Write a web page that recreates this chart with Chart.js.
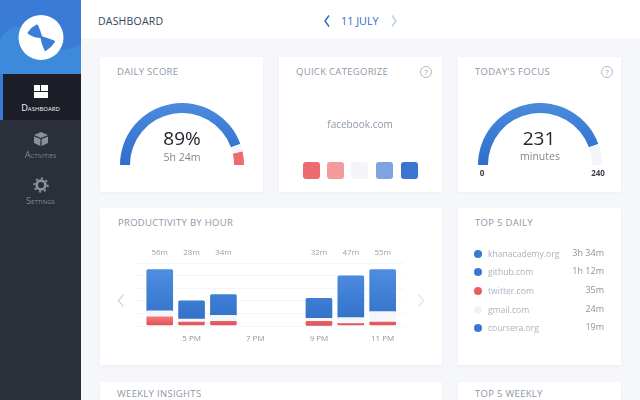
<!DOCTYPE html>
<html>
<head>
<meta charset="utf-8">
<script src="https://cdn.jsdelivr.net/npm/chart.js@4"></script>
<style>
  html, body { margin: 0; padding: 0; }
  body { width: 640px; height: 400px; overflow: hidden; position: relative; background: #f6f7fb; font-family: "Open Sans", sans-serif; }
  .abs { position: absolute; }
  .card { position: absolute; background: #fff; box-shadow: 0 1px 3px rgba(60,80,120,0.05); }
  .title { position: absolute; font-size: 9.5px; line-height: 14px; color: #8e98a8; letter-spacing: 0.3px; white-space: nowrap; }
  .title.low { line-height: 8px; }
  .txt { position: absolute; white-space: nowrap; line-height: 1; transform: translate(-50%, -50%); }
  .help { position: absolute; width: 10px; height: 10px; border: 1px solid #b4bac4; border-radius: 50%; font-size: 8px; line-height: 10px; text-align: center; color: #98a0ad; }
  #topbar { position: absolute; left: 81px; top: 0; width: 559px; height: 38px; background: #fff; }
  #side { position: absolute; left: 0; top: 0; width: 81px; height: 400px; background: #2a2f3a; }
  #active { position: absolute; left: 3px; top: 74px; width: 78px; height: 46px; background: #1c1f28; }
  #strip { position: absolute; left: 0; top: 74px; width: 3px; height: 46px; background: #3a7bd5; }
  .nav { position: absolute; left: 0; width: 81px; text-align: center; font-size: 9.2px; line-height: 11px; font-variant: small-caps; white-space: nowrap; }
  .sq { position: absolute; top: 162px; width: 17px; height: 17px; border-radius: 3px; }
  .dot { position: absolute; left: 474px; width: 8px; height: 8px; border-radius: 50%; }
  .site { position: absolute; left: 488px; font-size: 8.6px; line-height: 12px; color: #aab2bf; white-space: nowrap; }
  .dur { position: absolute; right: 36px; font-size: 9px; line-height: 12px; color: #8b93a0; white-space: nowrap; }
  canvas { position: absolute; }
</style>
</head>
<body>
<div id="topbar"></div>
<div id="side"></div>
<svg class="abs" style="left:0;top:0" width="81" height="74">
  <rect width="81" height="74" fill="#3a7bd7"/>
  <path d="M0 40 C10 22 26 24 36 36 C46 50 64 54 81 44 L81 74 L0 74 Z" fill="#3f8fdc" opacity="0.75"/>
  <circle cx="41" cy="37.5" r="22.5" fill="#fff"/>
  <path d="M28.5 33 Q32 28 37 25.5 Q39.5 31 41 36 Q42.5 44 45.5 50 Q51 46.5 54 41.5 Q47 39 41 37 Q34 37 28.5 33 Z" fill="#3a7fd6" stroke="#3a7fd6" stroke-width="2" stroke-linejoin="round"/>
</svg>
<div id="active"></div>
<div id="strip"></div>
<svg class="abs" style="left:33px;top:84px" width="16" height="15" viewBox="0 0 16 15" fill="#fff">
  <rect x="1" y="1" width="6" height="6"/><rect x="8" y="1" width="7" height="6"/><rect x="1" y="8" width="14" height="6"/>
</svg>
<div class="nav" style="top:102px;color:#f2f4f7">Dashboard</div>
<svg class="abs" style="left:33px;top:131px" width="16" height="16" viewBox="0 0 16 16" fill="#8b909a">
  <path d="M1 4 L8 1 L15 4 L8 7 Z"/><path d="M1 5.5 L7.4 8 V15 L1 12 Z"/><path d="M15 5.5 L8.6 8 V15 L15 12 Z"/>
</svg>
<div class="nav" style="top:149px;color:#858a94">Activities</div>
<svg class="abs" style="left:33px;top:177px" width="16" height="16" viewBox="0 0 16 16">
  <circle cx="8" cy="8" r="4.4" fill="none" stroke="#8b909a" stroke-width="2.6"/>
  <circle cx="8" cy="8" r="6.7" fill="none" stroke="#8b909a" stroke-width="2" stroke-dasharray="2.2 3"/>
</svg>
<div class="nav" style="top:195px;color:#858a94">Settings</div>

<div class="abs" style="left:98px;top:13px;font-size:10.5px;line-height:16px;color:#33445c;letter-spacing:.2px">DASHBOARD</div>
<svg class="abs" style="left:323px;top:14px" width="8" height="14" fill="none"><path d="M6 1.5 L2 7 L6 12.5" stroke="#2f6fc5" stroke-width="1.5"/></svg>
<div class="abs" style="left:341px;top:13px;font-size:10.8px;line-height:16px;color:#2f6fc5">11 JULY</div>
<svg class="abs" style="left:390px;top:14px" width="8" height="14" fill="none"><path d="M2 1.5 L6 7 L2 12.5" stroke="#bcd0ec" stroke-width="1.5"/></svg>

<div class="card" style="left:100px;top:57px;width:163px;height:135px"></div>
<div class="card" style="left:279px;top:57px;width:163px;height:135px"></div>
<div class="card" style="left:458px;top:57px;width:163px;height:135px"></div>
<div class="card" style="left:100px;top:208px;width:342px;height:157px"></div>
<div class="card" style="left:458px;top:208px;width:163px;height:157px"></div>
<div class="card" style="left:100px;top:382px;width:342px;height:30px"></div>
<div class="card" style="left:458px;top:382px;width:163px;height:30px"></div>

<div class="title" style="left:117px;top:65px">DAILY SCORE</div>
<div class="title" style="left:296px;top:65px">QUICK CATEGORIZE</div>
<div class="title" style="left:475px;top:65px">TODAY'S FOCUS</div>
<div class="help" style="left:420px;top:66px">?</div>
<div class="help" style="left:601px;top:66px">?</div>
<div class="title" style="left:118px;top:216px">PRODUCTIVITY BY HOUR</div>
<div class="title" style="left:475px;top:216px">TOP 5 DAILY</div>
<div class="title low" style="left:117px;top:390px">WEEKLY INSIGHTS</div>
<div class="title low" style="left:475px;top:390px">TOP 5 WEEKLY</div>

<canvas id="gauge-score" style="left:120px;top:103px"></canvas>
<div class="txt" style="left:182px;top:138px;font-size:19px;color:#23262c">89%</div>
<div class="txt" style="left:182px;top:156.5px;font-size:10.5px;color:#80868f">5h 24m</div>

<div class="txt" style="left:360px;top:124px;font-size:10px;color:#8e98a8">facebook.com</div>
<div id="squares"></div>

<canvas id="gauge-focus" style="left:478px;top:103px"></canvas>
<div class="txt" style="left:539px;top:137.5px;font-size:19px;color:#23262c">231</div>
<div class="txt" style="left:540px;top:155.5px;font-size:10.5px;color:#80868f">minutes</div>
<div class="txt" style="left:482px;top:173px;font-size:8px;font-weight:700;color:#3a3f47">0</div>
<div class="txt" style="left:598px;top:173px;font-size:8px;font-weight:700;color:#3a3f47">240</div>

<svg class="abs" style="left:116px;top:293px" width="10" height="15" fill="none"><path d="M7.5 1.5 L2.5 7.5 L7.5 13.5" stroke="#d5d9e0" stroke-width="1.4"/></svg>
<svg class="abs" style="left:416px;top:293px" width="10" height="15" fill="none"><path d="M2.5 1.5 L7.5 7.5 L2.5 13.5" stroke="#e2e5ea" stroke-width="1.4"/></svg>
<canvas id="chart-hours" style="left:130px;top:245px"></canvas>

<div id="toplist"></div>

<script>
// values
const HOURS = [16, 17, 18, 19, 20, 21, 22, 23];
const HOUR_TICKS = [17, 19, 21, 23];
const HOUR_TICK_LABELS = ['5 PM', '7 PM', '9 PM', '11 PM'];
const TOTAL_LABELS = ['56m', '28m', '34m', '', '', '32m', '47m', '55m'];
const BLUE_LOW = [14.4, 6.7, 10.2, null, null, 7.3, 8, 13.7];
const BLUE_HIGH = [54, 24, 30, null, null, 26.5, 48, 54];
const NEUTRAL_LOW = [9.3, 4.5, 5, null, null, 5, 3, 4.5];
const RED_LOW = [1, 1, 1, null, null, 0.5, 1, 1];
const RED_HIGH = [9.3, 4.5, 5, null, null, 5, 3, 4.5];

const SCORE_ARCS = [89, 4, 7];
const FOCUS_ARCS = [89, 11];

const SQUARE_COLORS = ['#ee6a6e', '#f49a9c', '#f3f5fa', '#7ea3e0', '#3a75d0'];
const SQUARE_LEFTS = [303, 327, 351, 376, 401];
const SITES = ['khanacademy.org', 'github.com', 'twitter.com', 'gmail.com', 'coursera.org'];
const SITE_TIMES = ['3h 34m', '1h 12m', '35m', '24m', '19m'];
const SITE_COLORS = ['#3a78d2', '#3a78d2', '#ea5d62', '#f1f3f7', '#3a78d2'];
const SITE_TOPS = [254, 272, 291, 310, 328];

SQUARE_COLORS.forEach((c, i) => {
  const d = document.createElement('div');
  d.className = 'sq';
  d.style.left = SQUARE_LEFTS[i] + 'px';
  d.style.background = c;
  document.getElementById('squares').appendChild(d);
});
SITES.forEach((s, i) => {
  const y = SITE_TOPS[i];
  document.getElementById('toplist').insertAdjacentHTML('beforeend',
    `<div class="dot" style="top:${y - 4}px;background:${SITE_COLORS[i]}"></div>` +
    `<div class="site" style="top:${y - 6}px">${s}</div>` +
    `<div class="dur" style="top:${y - 7}px">${SITE_TIMES[i]}</div>`);
});

function vGrad(c, top, bottom) {
  const a = c.chart.chartArea;
  if (!a) return bottom;
  const g = c.chart.ctx.createLinearGradient(0, a.top, 0, a.bottom);
  g.addColorStop(0, top);
  g.addColorStop(1, bottom);
  return g;
}

// red bars are short, so their gradient only runs over the low part of the axis
function redGrad(c) {
  const y = c.chart.scales.y;
  if (!y || !c.chart.chartArea) return '#e5585c';
  const g = c.chart.ctx.createLinearGradient(0, y.getPixelForValue(9), 0, y.getPixelForValue(0));
  g.addColorStop(0, '#f27c7f');
  g.addColorStop(1, '#dd4c51');
  return g;
}

function gauge(id, arcs, colors) {
  const el = document.getElementById(id);
  el.width = 124; el.height = 62;
  return new Chart(el, {
    type: 'doughnut',
    data: {
      datasets: [{
        data: arcs,
        // first arc is the blue one, the rest are flat colours
        backgroundColor: c => (c.dataIndex === 0 ? vGrad(c, '#4a8ade', '#2f6ecb') : colors[c.dataIndex]),
        borderWidth: 0,
      }],
    },
    options: {
      responsive: false,
      animation: false,
      rotation: -90,
      circumference: 180,
      cutout: '84%',
      plugins: { legend: { display: false }, tooltip: { enabled: false } },
    },
  });
}
gauge('gauge-score', SCORE_ARCS, [null, '#f3f5fa', '#ee6a6e']);
gauge('gauge-focus', FOCUS_ARCS, [null, '#f3f5fa']);

// labels above the bars, one per hour
const totalsPlugin = {
  id: 'totals',
  afterDraw(chart) {
    const { ctx, scales: { x } } = chart;
    ctx.save();
    ctx.font = '8px "Open Sans"';
    ctx.fillStyle = '#9aa1ad';
    ctx.textAlign = 'center';
    ctx.textBaseline = 'middle';
    HOURS.forEach((h, i) => ctx.fillText(TOTAL_LABELS[i], x.getPixelForValue(h), 8));
    ctx.restore();
  },
};

function floatBars(low, high, color) {
  return {
    data: HOURS.map((h, i) => ({ x: h, y: low[i] == null ? null : [low[i], high[i]] })),
    backgroundColor: color,
    barThickness: 26,
    grouped: false,
    borderRadius: 1.5,
    borderSkipped: false,
  };
}

const barEl = document.getElementById('chart-hours');
barEl.width = 280; barEl.height = 105;
new Chart(barEl, {
  type: 'bar',
  data: {
    datasets: [
      floatBars(NEUTRAL_LOW, BLUE_LOW, '#f5f6fb'),
      floatBars(BLUE_LOW, BLUE_HIGH, c => vGrad(c, '#5291e6', '#2e6ec4')),
      floatBars(RED_LOW, RED_HIGH, redGrad),
    ],
  },
  options: {
    responsive: false,
    animation: false,
    layout: { padding: { left: 6, right: 6, top: 18.3, bottom: 0 } },
    plugins: { legend: { display: false }, tooltip: { enabled: false } },
    scales: {
      x: {
        type: 'linear',
        offset: false,
        min: 15.255,
        max: 23.67,
        grid: { display: false, offset: false },
        border: { display: false },
        afterBuildTicks: axis => { axis.ticks = HOUR_TICKS.map(v => ({ value: v })); },
        afterFit: axis => { axis.height = 24; },
        ticks: {
          autoSkip: false,
          maxRotation: 0,
          color: '#8f97a4',
          font: { family: 'Open Sans', size: 8 },
          padding: 0,
          callback: v => HOUR_TICK_LABELS[HOUR_TICKS.indexOf(v)],
        },
      },
      y: {
        min: 0,
        max: 60,
        afterFit: axis => { axis.width = 0; },
        ticks: { display: false, stepSize: 12 },
        grid: { color: '#f5f6fa', drawTicks: false },
        border: { display: false },
      },
    },
  },
  plugins: [totalsPlugin],
});
</script>
</body>
</html>
